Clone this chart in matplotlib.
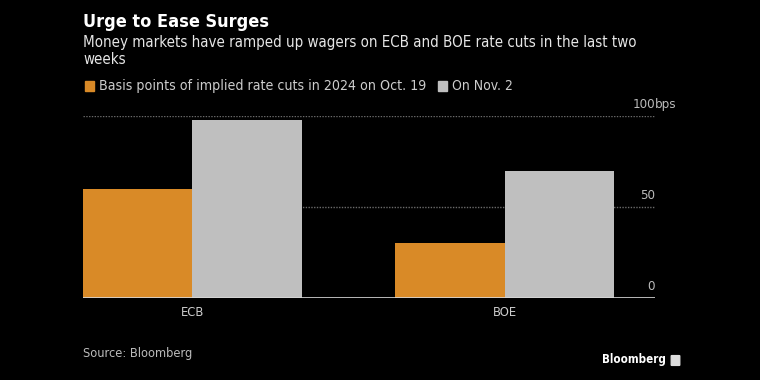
import matplotlib
matplotlib.use("Agg")
import matplotlib.pyplot as plt
import matplotlib.patches as mpatches
import numpy as np

plt.rcParams['font.family'] = ['DejaVu Sans']
plt.rcParams['font.stretch'] = 'condensed'

categories = ["ECB", "BOE"]
oct19 = [60, 30]
nov2 = [98, 70]
series_names = ["Basis points of implied rate cuts in 2024 on Oct. 19", "On Nov. 2"]
yticks = [0, 50, 100]
ytick_labels = ["0", "50", "100"]
unit = "bps"

orange = "#d98a27"
grey = "#bfbfbf"
bg = "#000000"

fig = plt.figure(figsize=(7.6, 3.8), dpi=100, facecolor=bg)
ax = fig.add_axes([83 / 760, 82 / 380, 572 / 760, 182 / 380], facecolor=bg)

x = np.arange(len(categories))
w = 0.35
ax.bar(x - w / 2, oct19, w, color=orange, zorder=3)
ax.bar(x + w / 2, nov2, w, color=grey, zorder=3)

ax.set_xlim(-w, 1 + w + 0.131)
ax.set_ylim(0, 100)
for s in ax.spines.values():
    s.set_visible(False)
ax.axhline(0, color="#d8d8d8", lw=1.2, zorder=4)
for v in yticks[1:]:
    ax.axhline(v, color="#6a6a6a", lw=1, ls=(0, (1, 1)), zorder=1)

ax.set_yticks([])
ax.set_xticks(x)
ax.set_xticklabels(categories, color="#cccccc", fontsize=9.3)
ax.tick_params(axis="x", length=0, pad=6)

for v, lab in zip(yticks, ytick_labels):
    ax.text(1.0, v + 3, lab, transform=ax.get_yaxis_transform(), ha="right",
            va="bottom", color="#bbbbbb", fontsize=9.5)
ax.text(1.0, yticks[-1] + 3, unit, transform=ax.get_yaxis_transform(), ha="left",
        va="bottom", color="#bbbbbb", fontsize=9.5)

fig.text(83 / 760, 1 - 22 / 380, "Urge to Ease Surges", color="white",
         fontsize=13, fontweight="bold", va="center", ha="left")
fig.text(83 / 760, 1 - 51 / 380,
         "Money markets have ramped up wagers on ECB and BOE rate cuts in the last two\nweeks",
         color="#e6e6e6", fontsize=10.8, va="center", ha="left", linespacing=1.25)

# legend
fig.patches.append(mpatches.Rectangle((85 / 760, 1 - 91 / 380), 9 / 760, 10 / 380,
                                      color=orange, transform=fig.transFigure))
fig.text(99 / 760, 1 - 86 / 380, series_names[0], color="#cccccc",
         fontsize=10.2, va="center", ha="left")
fig.patches.append(mpatches.Rectangle((438 / 760, 1 - 91 / 380), 9 / 760, 10 / 380,
                                      color=grey, transform=fig.transFigure))
fig.text(452 / 760, 1 - 86 / 380, series_names[1], color="#cccccc",
         fontsize=10.0, va="center", ha="left")

fig.text(83 / 760, 1 - 353 / 380, "Source: Bloomberg", color="#bbbbbb",
         fontsize=9.2, va="center", ha="left")
fig.text(666 / 760, 1 - 360 / 380, "Bloomberg", color="white",
         fontsize=8.3, fontweight="bold", va="center", ha="right")
fig.patches.append(mpatches.FancyBboxPatch((672 / 760, 1 - 365 / 380), 7 / 760, 9 / 380,
                                           boxstyle="round,pad=0.001", color="#dddddd",
                                           transform=fig.transFigure))

fig.savefig("out.png", dpi=100, facecolor=bg)
